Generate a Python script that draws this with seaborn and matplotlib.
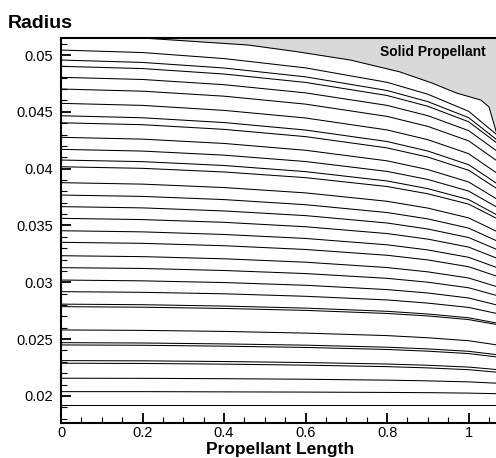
import matplotlib
matplotlib.use("Agg")
import matplotlib.pyplot as plt
from matplotlib.ticker import MultipleLocator, FixedLocator, FixedFormatter
import seaborn as sns
import pandas as pd

# ---------------- data ----------------
length_stations = [0.0, 0.2, 0.4, 0.6, 0.8, 0.9, 1.0, 1.07]

radius_lines = [
    [0.05044, 0.05022, 0.04969, 0.04887, 0.04760, 0.04655, 0.04505, 0.04296],
    [0.04956, 0.04935, 0.04886, 0.04808, 0.04688, 0.04590, 0.04449, 0.04252],
    [0.04901, 0.04881, 0.04833, 0.04759, 0.04644, 0.04549, 0.04413, 0.04224],
    [0.04804, 0.04785, 0.04739, 0.04667, 0.04557, 0.04466, 0.04335, 0.04153],
    [0.04701, 0.04682, 0.04638, 0.04568, 0.04460, 0.04372, 0.04245, 0.04068],
    [0.04575, 0.04557, 0.04513, 0.04446, 0.04341, 0.04255, 0.04132, 0.03959],
    [0.04466, 0.04448, 0.04406, 0.04340, 0.04239, 0.04155, 0.04035, 0.03868],
    [0.04404, 0.04387, 0.04346, 0.04282, 0.04183, 0.04102, 0.03986, 0.03823],
    [0.04276, 0.04260, 0.04222, 0.04162, 0.04069, 0.03992, 0.03883, 0.03731],
    [0.04170, 0.04155, 0.04119, 0.04063, 0.03976, 0.03905, 0.03803, 0.03660],
    [0.04076, 0.04062, 0.04028, 0.03974, 0.03892, 0.03824, 0.03728, 0.03592],
    [0.04017, 0.04003, 0.03971, 0.03921, 0.03843, 0.03779, 0.03688, 0.03560],
    [0.03877, 0.03864, 0.03834, 0.03787, 0.03713, 0.03653, 0.03567, 0.03446],
    [0.03768, 0.03756, 0.03728, 0.03683, 0.03614, 0.03558, 0.03477, 0.03363],
    [0.03666, 0.03655, 0.03628, 0.03587, 0.03522, 0.03469, 0.03394, 0.03288],
    [0.03563, 0.03552, 0.03528, 0.03489, 0.03429, 0.03380, 0.03310, 0.03211],
    [0.03454, 0.03444, 0.03421, 0.03386, 0.03330, 0.03285, 0.03220, 0.03129],
    [0.03352, 0.03343, 0.03322, 0.03289, 0.03238, 0.03197, 0.03137, 0.03053],
    [0.03234, 0.03226, 0.03207, 0.03177, 0.03130, 0.03092, 0.03038, 0.02961],
    [0.03129, 0.03122, 0.03104, 0.03077, 0.03035, 0.03001, 0.02952, 0.02883],
    [0.03020, 0.03013, 0.02998, 0.02974, 0.02936, 0.02906, 0.02862, 0.02800],
    [0.02918, 0.02912, 0.02899, 0.02877, 0.02845, 0.02817, 0.02779, 0.02725],
    [0.02808, 0.02803, 0.02791, 0.02773, 0.02745, 0.02721, 0.02688, 0.02641],
    [0.02786, 0.02781, 0.02770, 0.02753, 0.02726, 0.02704, 0.02672, 0.02628],
    [0.02581, 0.02577, 0.02568, 0.02553, 0.02531, 0.02512, 0.02486, 0.02449],
    [0.02469, 0.02466, 0.02458, 0.02447, 0.02429, 0.02414, 0.02393, 0.02363],
    [0.02449, 0.02446, 0.02438, 0.02427, 0.02409, 0.02394, 0.02373, 0.02343],
    [0.02311, 0.02309, 0.02303, 0.02294, 0.02281, 0.02270, 0.02254, 0.02232],
    [0.02288, 0.02286, 0.02280, 0.02271, 0.02258, 0.02247, 0.02231, 0.02209],
    [0.02156, 0.02155, 0.02152, 0.02147, 0.02139, 0.02133, 0.02124, 0.02112],
    [0.02038, 0.02038, 0.02036, 0.02034, 0.02031, 0.02029, 0.02025, 0.02020],
    [0.01921, 0.01921, 0.01921, 0.01921, 0.01921, 0.01921, 0.01921, 0.01921],
]

# boundary of the solid propellant region (grey area)
boundary_x = [0.0, 0.2, 0.46, 0.58, 0.71, 0.83, 0.91, 0.97, 1.03, 1.05, 1.07]
boundary_r = [0.0520, 0.05150, 0.05088, 0.05029, 0.04956, 0.04853, 0.04754,
              0.04666, 0.04604, 0.04543, 0.04296]

x_ticks = [0, 0.2, 0.4, 0.6, 0.8, 1.0]
x_tick_labels = ["0", "0.2", "0.4", "0.6", "0.8", "1"]
y_ticks = [0.02, 0.025, 0.03, 0.035, 0.04, 0.045, 0.05]
y_tick_labels = ["0.02", "0.025", "0.03", "0.035", "0.04", "0.045", "0.05"]

# ---------------- figure ----------------
sns.set_style("ticks")
plt.rcParams["font.family"] = ["Liberation Sans", "DejaVu Sans"]
plt.rcParams["text.color"] = "black"

rows = []
for i, line in enumerate(radius_lines):
    for xv, rv in zip(length_stations, line):
        rows.append({"length": xv, "radius": rv, "line": i})
df = pd.DataFrame(rows)

fig = plt.figure(figsize=(4.96, 4.58), dpi=100)
ax = fig.add_axes([61 / 496, 1 - 423 / 458, 1 - 61 / 496 + 0.004, (423 - 38) / 458])

ylo, yhi = 0.01762, 0.0515
ax.fill_between(boundary_x, boundary_r, 0.06, color="#d9d9d9", zorder=0, lw=0)
ax.plot(boundary_x, boundary_r, color="black", lw=0.75, zorder=2)

sns.lineplot(data=df, x="length", y="radius", units="line", estimator=None,
             color="black", lw=0.75, ax=ax, legend=False, zorder=2)

ax.set_xlim(0, 1.072)
ax.set_ylim(ylo, yhi)

ax.xaxis.set_major_locator(FixedLocator(x_ticks))
ax.xaxis.set_major_formatter(FixedFormatter(x_tick_labels))
ax.yaxis.set_major_locator(FixedLocator(y_ticks))
ax.yaxis.set_major_formatter(FixedFormatter(y_tick_labels))
ax.xaxis.set_minor_locator(MultipleLocator(0.05))
ax.yaxis.set_minor_locator(MultipleLocator(0.001))

ax.tick_params(which="major", direction="in", length=7, width=1.3,
               labelsize=10.5, colors="black", pad=5.5)
ax.tick_params(which="minor", direction="in", length=4, width=0.8, colors="black")
ax.tick_params(axis="x", which="major", pad=2.0)

for side in ["left", "bottom", "top"]:
    ax.spines[side].set_linewidth(1.5)
    ax.spines[side].set_color("black")
ax.spines["right"].set_visible(False)

ax.set_xlabel("")
ax.set_ylabel("")

fig.text(8 / 496, 1 - 28 / 458, "Radius", fontsize=14, fontweight="bold",
         ha="left", va="baseline")
fig.text(280 / 496, 1 - 454 / 458, "Propellant Length", fontsize=12.5,
         fontweight="bold", ha="center", va="baseline")
ax.text(1.042, 0.05026, "Solid Propellant", fontsize=10, fontweight="bold",
        ha="right", va="center")

fig.savefig("out.png", dpi=100)
